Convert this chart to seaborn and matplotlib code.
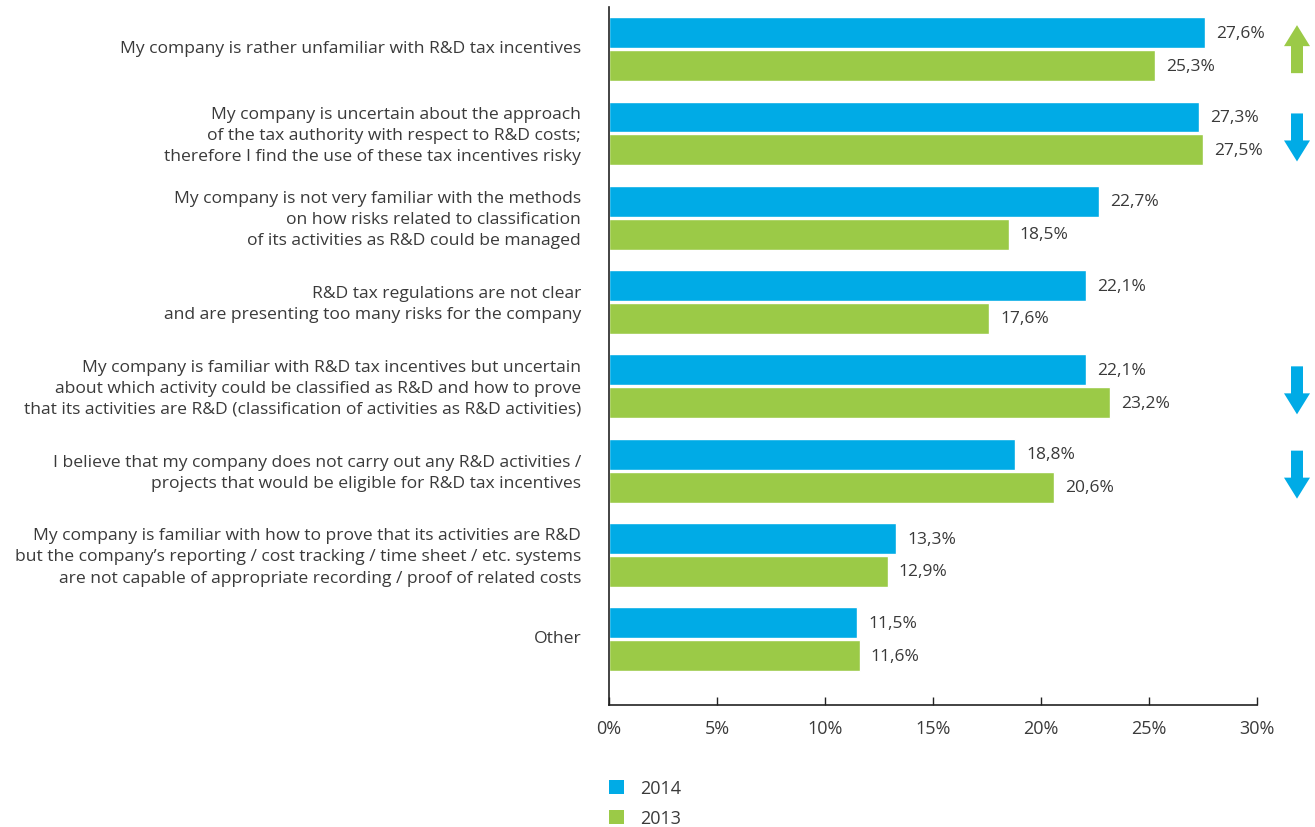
import matplotlib
matplotlib.use("Agg")
import matplotlib.pyplot as plt
import matplotlib.transforms as mtransforms
from matplotlib.patches import Polygon, Patch
import seaborn as sns
import pandas as pd

categories = [
    "My company is rather unfamiliar with R&D tax incentives",
    "My company is uncertain about the approach\nof the tax authority with respect to R&D costs;\ntherefore I find the use of these tax incentives risky",
    "My company is not very familiar with the methods\non how risks related to classification\nof its activities as R&D could be managed",
    "R&D tax regulations are not clear\nand are presenting too many risks for the company",
    "My company is familiar with R&D tax incentives but uncertain\nabout which activity could be classified as R&D and how to prove\nthat its activities are R&D (classification of activities as R&D activities)",
    "I believe that my company does not carry out any R&D activities /\nprojects that would be eligible for R&D tax incentives",
    "My company is familiar with how to prove that its activities are R&D\nbut the company\u2019s reporting / cost tracking / time sheet / etc. systems\nare not capable of appropriate recording / proof of related costs",
    "Other",
]
values_2014 = [27.6, 27.3, 22.7, 22.1, 22.1, 18.8, 13.3, 11.5]
values_2013 = [25.3, 27.5, 18.5, 17.6, 23.2, 20.6, 12.9, 11.6]
years = ["2014", "2013"]
# trend markers shown at the right edge: (category index, direction, colour key)
trend_arrows = [(0, "up", "2013"), (1, "down", "2014"), (4, "down", "2014"), (5, "down", "2014")]
x_ticks = [0, 5, 10, 15, 20, 25, 30]

colors = {"2014": "#00ABE6", "2013": "#9BCA47"}
text_color = "#3a3a3a"

df = pd.DataFrame({
    "category": categories * 2,
    "value": values_2014 + values_2013,
    "year": [years[0]] * len(categories) + [years[1]] * len(categories),
})

sns.set_theme(style="white")
plt.rcParams["font.family"] = ["Open Sans", "DejaVu Sans"]

fig = plt.figure(figsize=(13.15, 8.28), dpi=100)
ax = fig.add_axes([609 / 1315, 1 - 706 / 828, (1257 - 609) / 1315, (706 - 8) / 828])

sns.barplot(data=df, y="category", x="value", hue="year", order=categories,
            hue_order=years, palette=colors, orient="h", width=0.78, gap=0.06,
            saturation=1, legend=False, ax=ax)

# value labels at the end of each bar
for container in ax.containers:
    labels = [f"{v:.1f}".replace(".", ",") + "%" for v in container.datavalues]
    ax.bar_label(container, labels=labels, padding=8, fontsize=12.5, color=text_color)

ax.set_xlim(0, 30)
ax.set_ylim(7.78, -0.5)
ax.set_xticks(x_ticks)
ax.set_xticklabels([f"{t}%" for t in x_ticks], fontsize=13, color=text_color)
ax.tick_params(axis="x", direction="in", length=6, width=1, color="#222222",
               pad=10, bottom=True)
ax.tick_params(axis="y", length=0, pad=20, labelsize=12.6, labelcolor=text_color)
lift = mtransforms.ScaledTranslation(0, 3 / 100, fig.dpi_scale_trans)
for lbl in ax.get_yticklabels():
    lbl.set_linespacing(1.42)
    lbl.set_transform(lbl.get_transform() + lift)
ax.set_xlabel("")
ax.set_ylabel("")
for side in ("top", "right"):
    ax.spines[side].set_visible(False)
for side in ("left", "bottom"):
    ax.spines[side].set_color("#222222")
    ax.spines[side].set_linewidth(1.2)

# block arrows marking the change between years
px_x = 30 / (1257 - 609)
px_y = 8.28 / (706 - 8)
x_c = 30 + (1297 - 1257) * px_x
for idx, direction, key in trend_arrows:
    half_len = 24 * px_y
    head = 21 * px_y
    sw, hw = 6 * px_x, 13 * px_x
    s = -1 if direction == "up" else 1
    center = idx if direction == "up" else idx + 4 * px_y
    tip = center + s * half_len
    tail = center - s * half_len
    base = tip - s * head
    pts = [(x_c - sw, tail), (x_c + sw, tail), (x_c + sw, base), (x_c + hw, base),
           (x_c, tip), (x_c - hw, base), (x_c - sw, base)]
    ax.add_patch(Polygon(pts, closed=True, facecolor=colors[key], edgecolor="none",
                         clip_on=False))

handles = [Patch(facecolor=colors[y], edgecolor="none") for y in years]
fig.legend(handles, years, loc="upper left", bbox_to_anchor=(609 / 1315, 1 - 780 / 828),
           frameon=False, fontsize=13, handlelength=0.83, handleheight=0.83,
           handletextpad=0.9, labelspacing=0.66, borderpad=0, borderaxespad=0,
           labelcolor=text_color)

fig.savefig("out.png", dpi=100)
